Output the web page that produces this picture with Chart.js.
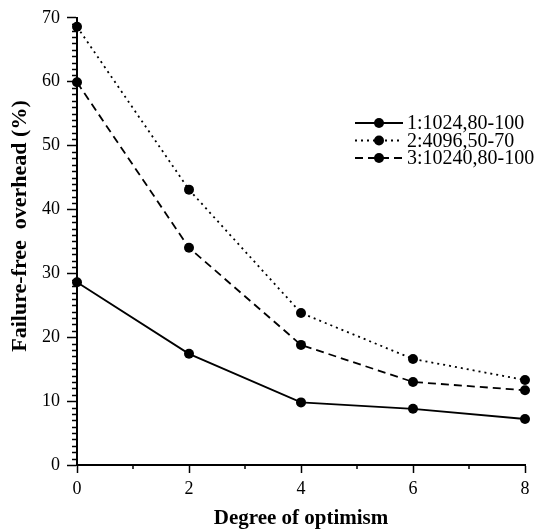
<!DOCTYPE html>
<html>
<head>
<meta charset="utf-8">
<script src="https://cdn.jsdelivr.net/npm/chart.js@4/dist/chart.umd.min.js"></script>
<style>
  html, body { margin: 0; padding: 0; background: #fff; }
  #wrap { width: 536px; height: 531px; }
</style>
</head>
<body>
<div id="wrap"><canvas id="chart"></canvas></div>
<script>
// DATA
const degrees = [0, 2, 4, 6, 8];
const seriesNames = ['1:1024,80-100', '2:4096,50-70', '3:10240,80-100'];
const series1 = [28.6, 17.4, 9.8, 8.8, 7.2];
const series2 = [68.6, 43.1, 23.8, 16.6, 13.3];
const series3 = [59.9, 34.0, 18.8, 13.0, 11.7];
const yTitle = 'Failure-free  overhead (%)';
const xTitle = 'Degree of optimism';

const FONT = '"Liberation Serif", "Times New Roman", serif';

const toPoints = vals => vals.map((v, i) => ({ x: degrees[i], y: v }));

function makeSet(label, vals, dash) {
  return {
    label: label,
    data: toPoints(vals),
    borderColor: '#000',
    backgroundColor: '#000',
    borderWidth: 1.8,
    borderDash: dash,
    pointRadius: 5,
    pointHoverRadius: 5,
    pointBorderWidth: 0,
    tension: 0,
    clip: false
  };
}

// minor ticks on both axes + y title
const extras = {
  id: 'extras',
  afterDraw(chart) {
    const { ctx, scales: { x, y } } = chart;
    const left = chart.chartArea.left, bottom = chart.chartArea.bottom;
    ctx.save();
    ctx.strokeStyle = '#000';
    ctx.lineWidth = 1.5;
    ctx.beginPath();
    for (let v = 1; v < 70; v++) {
      if (v % 10 === 0) continue;
      const py = Math.round(y.getPixelForValue(v)) + 0.5;
      ctx.moveTo(left - 5, py);
      ctx.lineTo(left, py);
    }
    for (let v = 1; v < 8; v += 2) {
      const px = Math.round(x.getPixelForValue(v));
      ctx.moveTo(px, bottom);
      ctx.lineTo(px, bottom + 4);
    }
    ctx.stroke();

    // y axis title
    ctx.translate(20, 226);
    ctx.rotate(-Math.PI / 2);
    ctx.font = 'bold 22px ' + FONT;
    ctx.textAlign = 'center';
    ctx.textBaseline = 'middle';
    ctx.fillStyle = '#000';
    ctx.fillText(yTitle, 0, 0);
    ctx.restore();
  }
};

// legend in upper right
const lineLegend = {
  id: 'lineLegend',
  afterDraw(chart) {
    const ctx = chart.ctx;
    const x0 = 355, x1 = 403, tx = 407;
    let yRow = 123;
    ctx.save();
    ctx.font = '20px ' + FONT;
    ctx.textBaseline = 'middle';
    ctx.fillStyle = '#000';
    chart.data.datasets.forEach(ds => {
      ctx.strokeStyle = '#000';
      ctx.lineWidth = 1.8;
      ctx.setLineDash(ds.borderDash || []);
      ctx.beginPath();
      ctx.moveTo(x0, yRow);
      ctx.lineTo(x1, yRow);
      ctx.stroke();
      ctx.setLineDash([]);
      ctx.beginPath();
      ctx.arc((x0 + x1) / 2, yRow, 5, 0, Math.PI * 2);
      ctx.fill();
      ctx.fillText(ds.label, tx, yRow + 1);
      yRow += 17.5;
    });
    ctx.restore();
  }
};

new Chart(document.getElementById('chart'), {
  type: 'line',
  data: {
    datasets: [
      makeSet(seriesNames[0], series1, []),
      makeSet(seriesNames[1], series2, [2, 4]),
      makeSet(seriesNames[2], series3, [8, 5])
    ]
  },
  options: {
    responsive: true,
    maintainAspectRatio: false,
    animation: false,
    layout: { padding: { top: 17, right: 11, left: 0, bottom: 0 } },
    plugins: {
      legend: { display: false },
      tooltip: { enabled: false }
    },
    scales: {
      x: {
        type: 'linear',
        min: 0,
        max: 8,
        afterFit: s => { s.height = 66; },
        border: { color: '#000', width: 2 },
        grid: { drawOnChartArea: false, drawTicks: true, tickLength: 8, tickWidth: 1.5, tickColor: '#000' },
        ticks: { stepSize: 2, color: '#000', padding: 5, font: { family: FONT, size: 18 } },
        title: {
          display: true,
          text: xTitle,
          color: '#000',
          font: { family: FONT, size: 21, weight: 'bold' },
          padding: { top: 4, bottom: 0 }
        }
      },
      y: {
        min: 0,
        max: 70,
        afterFit: s => { s.width = 77; },
        border: { color: '#000', width: 2 },
        grid: { drawOnChartArea: false, drawTicks: true, tickLength: 10, tickWidth: 1.5, tickColor: '#000' },
        ticks: { stepSize: 10, color: '#000', padding: 7, font: { family: FONT, size: 18 } }
      }
    }
  },
  plugins: [extras, lineLegend]
});
</script>
</body>
</html>
